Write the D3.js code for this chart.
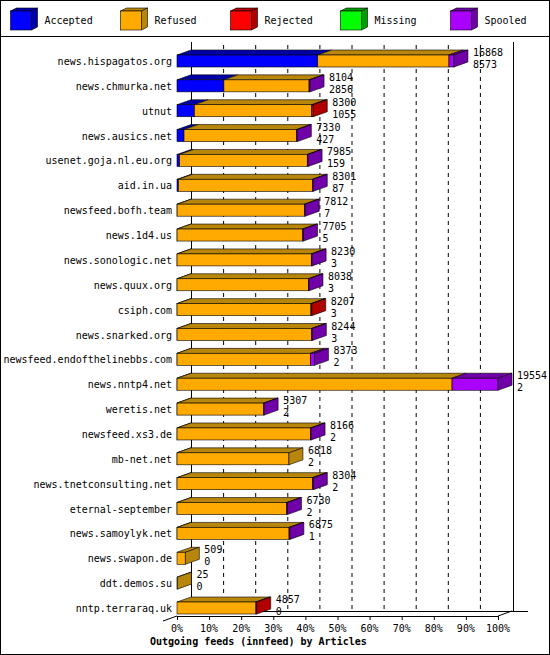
<!DOCTYPE html>
<html><head><meta charset="utf-8">
<script src="https://cdn.jsdelivr.net/npm/d3@7"></script>
<style>body{margin:0;background:#fff}svg{display:block}text{font-family:"DejaVu Sans Mono",monospace;font-size:10px}</style>
</head><body><svg id="c" width="550" height="655"></svg>
<script>
const hosts=["news.hispagatos.org","news.chmurka.net","utnut","news.ausics.net","usenet.goja.nl.eu.org","aid.in.ua","newsfeed.bofh.team","news.1d4.us","news.sonologic.net","news.quux.org","csiph.com","news.snarked.org","newsfeed.endofthelinebbs.com","news.nntp4.net","weretis.net","newsfeed.xs3.de","mb-net.net","news.tnetconsulting.net","eternal-september","news.samoylyk.net","news.swapon.de","ddt.demos.su","nntp.terraraq.uk"];
const offered=[16868,8104,8300,7330,7985,8301,7812,7705,8230,8038,8207,8244,8373,19554,5307,8166,6818,8304,6730,6875,509,25,4857];
const accepted=[8573,2856,1055,427,159,87,7,5,3,3,3,3,2,2,2,2,2,2,2,1,0,0,0];
const refused=[7995,5188,7155,6853,7776,8164,7755,7650,8177,8005,8154,8191,8121,16752,5285,8144,6816,8252,6678,6824,509,25,4807];
const rejected=[0,0,90,0,0,0,0,0,0,0,50,0,0,0,0,0,0,0,0,0,0,0,50];
const missing=[0,0,0,0,0,0,0,0,0,0,0,0,0,0,0,0,0,0,0,0,0,0,0];
const spooled=[300,60,0,50,50,50,50,50,50,30,0,50,250,2800,20,20,0,50,50,50,0,0,0];
const seriesNames=["Accepted","Refused","Rejected","Missing","Spooled"];
const front=["#0000ff","#ffaa00","#ff0000","#00ff00","#aa00ff"];
const dark=["#0000a8","#b8860b","#b00000","#00a000","#7000a8"];
const pctTicks=[0,10,20,30,40,50,60,70,80,90,100];

const svg=d3.select("#c");
const DX=14,DY=-5,H=12;
const x=d3.scaleLinear().domain([0,d3.max(offered)]).range([177,498]);
const px=d3.scaleLinear().domain([0,100]).range([177,498]);
const y=d3.scaleLinear().domain([0,hosts.length-1]).range([61,608]);
const series=[accepted,refused,rejected,missing,spooled];

svg.append("rect").attr("x",0.5).attr("y",0.5).attr("width",549).attr("height",654).attr("fill","none").attr("stroke","#000");
svg.append("line").attr("x1",0).attr("x2",550).attr("y1",36.5).attr("y2",36.5).attr("stroke","#000");
seriesNames.forEach((n,i)=>{
  const lx=10.5+i*110,ly=11;
  const g=svg.append("g");
  g.append("polygon").attr("points",`${lx},${ly} ${lx+21},${ly} ${lx+27},${ly-3} ${lx+6},${ly-3}`).attr("fill",dark[i]).attr("stroke","#000").attr("stroke-width",0.6);
  g.append("polygon").attr("points",`${lx+21},${ly} ${lx+27},${ly-3} ${lx+27},${ly+16} ${lx+21},${ly+19}`).attr("fill",dark[i]).attr("stroke","#000").attr("stroke-width",0.6);
  g.append("rect").attr("x",lx).attr("y",ly).attr("width",21).attr("height",19).attr("fill",front[i]).attr("stroke","#000").attr("stroke-width",0.6);
  g.append("text").attr("x",lx+34).attr("y",ly+13).text(n);
});
svg.append("line").attr("x1",191.5).attr("x2",191.5).attr("y1",42).attr("y2",611).attr("stroke","#000");
svg.append("line").attr("x1",513.5).attr("x2",513.5).attr("y1",42).attr("y2",611).attr("stroke","#000");
pctTicks.slice(1,-1).forEach(p=>{
  svg.append("line").attr("x1",px(p)+DX+0.5).attr("x2",px(p)+DX+0.5).attr("y1",45).attr("y2",611).attr("stroke","#000").attr("stroke-dasharray","4,4");
});
svg.append("line").attr("x1",191).attr("x2",528).attr("y1",611.5).attr("y2",611.5).attr("stroke","#000");
svg.append("line").attr("x1",163).attr("x2",177).attr("y1",621).attr("y2",616).attr("stroke","#000");
svg.append("line").attr("x1",498).attr("x2",512).attr("y1",616).attr("y2",611).attr("stroke","#000");
hosts.forEach((h,i)=>{
  const yc=y(i),yt=yc-H/2,yb=yc+H/2;
  svg.append("text").attr("x",172).attr("y",yc+4).attr("text-anchor","end").text(h);
  let cum=0,last=-1,lastEnd=0;
  series.forEach((s,k)=>{
    const v=s[i]; if(v<=0) return;
    const x0=x(cum),x1=x(cum+v); cum+=v;
    svg.append("polygon").attr("points",`${x0},${yt} ${x1},${yt} ${x1+DX},${yt+DY} ${x0+DX},${yt+DY}`).attr("fill",dark[k]).attr("stroke","#000").attr("stroke-width",0.6);
    svg.append("rect").attr("x",x0).attr("y",yt).attr("width",x1-x0).attr("height",H).attr("fill",front[k]).attr("stroke","#000").attr("stroke-width",0.6);
    last=k;lastEnd=x1;
  });
  if(last>=0){
    svg.append("polygon").attr("points",`${lastEnd},${yt} ${lastEnd+DX},${yt+DY} ${lastEnd+DX},${yb+DY} ${lastEnd},${yb}`).attr("fill",dark[last]).attr("stroke","#000").attr("stroke-width",0.6);
  }
  const tx=x(offered[i])+DX+5;
  svg.append("rect").attr("x",tx-1).attr("y",yc-14).attr("width",String(offered[i]).length*6+2).attr("height",24).attr("fill","#fff").attr("opacity",0);
  svg.append("text").attr("x",tx).attr("y",yc-5).text(offered[i]);
  svg.append("text").attr("x",tx).attr("y",yc+7).text(accepted[i]);
});
svg.append("line").attr("x1",177).attr("x2",498).attr("y1",616.5).attr("y2",616.5).attr("stroke","#000");
pctTicks.forEach(p=>{
  svg.append("line").attr("x1",px(p)+0.5).attr("x2",px(p)+0.5).attr("y1",616).attr("y2",620).attr("stroke","#000");
  svg.append("text").attr("x",px(p)).attr("y",632).attr("text-anchor","middle").text(p+"%");
});
svg.append("text").attr("x",150).attr("y",645).attr("font-weight","bold").text("Outgoing feeds (innfeed) by Articles");
</script></body></html>
